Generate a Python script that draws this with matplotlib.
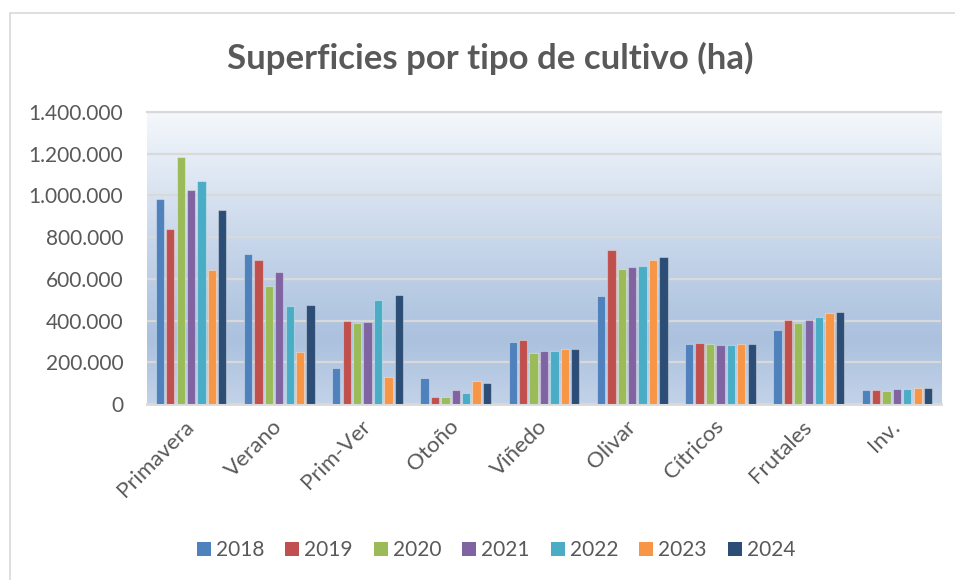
import matplotlib
matplotlib.use("Agg")
import matplotlib.pyplot as plt
import numpy as np
from matplotlib.ticker import FuncFormatter, MultipleLocator
from matplotlib.colors import LinearSegmentedColormap
from matplotlib.patches import Rectangle

categories = ["Primavera", "Verano", "Prim-Ver", "Otoño", "Viñedo", "Olivar",
              "Cítricos", "Frutales", "Inv."]
years = ["2018", "2019", "2020", "2021", "2022", "2023", "2024"]

v2018 = [985000, 717000, 172000, 126000, 297000, 519000, 290000, 357000, 67000]
v2019 = [838000, 689000, 399000, 32000, 305000, 739000, 292000, 401000, 67000]
v2020 = [1183000, 568000, 388000, 33000, 243000, 648000, 286000, 386000, 64000]
v2021 = [1026000, 634000, 394000, 65000, 252000, 659000, 282000, 405000, 72000]
v2022 = [1071000, 472000, 498000, 51000, 252000, 664000, 281000, 415000, 72000]
v2023 = [643000, 249000, 129000, 110000, 262000, 689000, 286000, 437000, 75000]
v2024 = [932000, 476000, 525000, 101000, 262000, 707000, 287000, 439000, 75000]
series = [v2018, v2019, v2020, v2021, v2022, v2023, v2024]

colors = ["#4f81bd", "#c0504d", "#9bbb59", "#8064a2", "#4bacc6", "#f79646", "#2c4d75"]

FONT = ["Lato", "DejaVu Sans"]
TXT = "#595959"
plt.rcParams["font.family"] = FONT

W, H = 955, 580
fig = plt.figure(figsize=(W / 100, H / 100), dpi=100)

# outer chart border
fig.patches.append(Rectangle((10 / W, -0.05), 1.2, (H - 13) / H + 0.05,
                             transform=fig.transFigure, fill=False,
                             edgecolor="#d9d9d9", linewidth=1.2))

L, R, T, B = 147, 941, 112, 404
ax = fig.add_axes([L / W, (H - B) / H, (R - L) / W, (B - T) / H])

# gradient background
cmap = LinearSegmentedColormap.from_list(
    "bg", [(0.0, "#c2d2e8"), (0.22, "#abc1de"), (0.55, "#c7d6ea"), (1.0, "#f5f8fc")])
grad = np.linspace(0, 1, 256).reshape(-1, 1)
ax.imshow(grad, cmap=cmap, aspect="auto", extent=[0, 1, 0, 1],
          transform=ax.transAxes, origin="lower", zorder=0)

x = np.arange(len(categories))
step = 0.118
width = 0.094
for i, (vals, c, y) in enumerate(zip(series, colors, years)):
    ax.bar(x + (i - 3) * step, vals, width=width, color=c, label=y,
           edgecolor=(1, 1, 1, 0.35), linewidth=0.8, zorder=3)

ax.set_xlim(-0.5, len(categories) - 0.5)
ax.set_ylim(0, 1400000)
ax.yaxis.set_major_locator(MultipleLocator(200000))
ax.yaxis.set_major_formatter(FuncFormatter(lambda v, p: f"{int(v):,}".replace(",", ".")))
ax.grid(axis="y", color="#d9d9d9", linewidth=1.6, zorder=1)
ax.set_axisbelow(False)
for ln in ax.get_ygridlines():
    ln.set_zorder(1)

for s in ["left", "right"]:
    ax.spines[s].set_visible(False)
ax.spines["top"].set_color("#d9d9d9")
ax.spines["top"].set_linewidth(1.6)
ax.spines["bottom"].set_color("#d9d9d9")
ax.spines["bottom"].set_linewidth(2)

ax.tick_params(axis="y", length=0, pad=17, labelsize=15, labelcolor=TXT)
ax.tick_params(axis="x", length=0, pad=14, labelsize=16, labelcolor=TXT)
ax.set_xticks(x)
ax.set_xticklabels(categories, rotation=45, ha="right", va="center",
                   rotation_mode="anchor")

fig.text(490 / W, (H - 58) / H, "Superficies por tipo de cultivo (ha)",
         ha="center", va="center", fontsize=25, fontweight="bold", color=TXT)

leg = fig.legend(loc="center", bbox_to_anchor=(496 / W, (H - 550) / H), ncol=7,
                 frameon=False, fontsize=15, handlelength=0.67, handleheight=0.67,
                 handletextpad=0.25, columnspacing=1.0, labelcolor=TXT)
for h in leg.legend_handles:
    h.set_edgecolor("none")

fig.savefig("out.png", dpi=100)
